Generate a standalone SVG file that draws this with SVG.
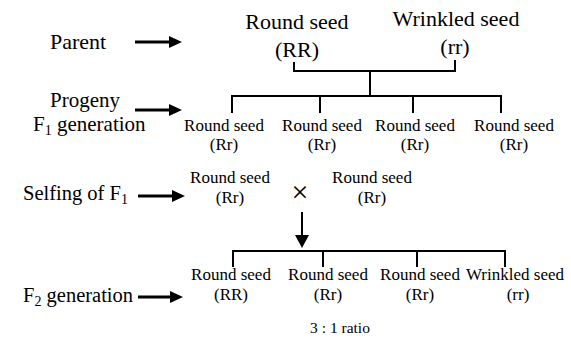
<svg xmlns="http://www.w3.org/2000/svg" width="571" height="338" viewBox="0 0 571 338">
<style>
.big{font-family:"Liberation Serif","Times New Roman",serif;font-size:22px;fill:#000}
.lab{font-family:"Liberation Serif","Times New Roman",serif;font-size:21px;fill:#000}
.sm{font-family:"Liberation Serif","Times New Roman",serif;font-size:17px;fill:#000;text-anchor:middle}
.tiny{font-family:"Liberation Serif","Times New Roman",serif;font-size:15.5px;fill:#000;text-anchor:middle}
.ln{stroke:#000;stroke-width:2;fill:none}
.ar{stroke:#000;stroke-width:3;fill:none}
.sub{font-size:14px}
</style>
<rect width="571" height="338" fill="#fff"/>
<g id="label-parent"><text class="lab" x="50" y="49" style="font-size:22px">Parent</text></g>
<g id="label-progeny"><text class="lab" x="50" y="107">Progeny</text>
<text class="lab" x="33" y="131">F<tspan class="sub" dy="4">1</tspan><tspan dy="-4"> generation</tspan></text></g>
<g id="label-selfing"><text class="lab" x="23" y="200" style="font-size:20.5px">Selfing of F<tspan class="sub" dy="4">1</tspan></text></g>
<g id="label-f2"><text class="lab" x="23" y="302" style="font-size:20.5px">F<tspan class="sub" dy="4">2</tspan><tspan dy="-4"> generation</tspan></text></g>
<g id="parent-round"><text class="big" text-anchor="middle" x="297" y="29">Round seed</text><text class="big" text-anchor="middle" x="297" y="57">(RR)</text></g>
<g id="parent-wrinkled"><text class="big" text-anchor="middle" x="456" y="26">Wrinkled seed</text><text class="big" text-anchor="middle" x="455" y="54">(rr)</text></g>
<g id="f1-1"><text class="sm" x="224" y="131">Round seed</text><text class="sm" x="224" y="150">(Rr)</text></g>
<g id="f1-2"><text class="sm" x="322" y="131">Round seed</text><text class="sm" x="322" y="150">(Rr)</text></g>
<g id="f1-3"><text class="sm" x="415" y="131">Round seed</text><text class="sm" x="415" y="150">(Rr)</text></g>
<g id="f1-4"><text class="sm" x="514" y="131">Round seed</text><text class="sm" x="514" y="150">(Rr)</text></g>
<g id="self-1"><text class="sm" x="230" y="183">Round seed</text><text class="sm" x="230" y="203">(Rr)</text></g>
<g id="cross"><text class="big" text-anchor="middle" x="300" y="202" style="font-size:30px">×</text></g>
<g id="self-2"><text class="sm" x="372" y="183">Round seed</text><text class="sm" x="372" y="203">(Rr)</text></g>
<g id="f2-1"><text class="sm" x="231" y="280">Round seed</text><text class="sm" x="231" y="300">(RR)</text></g>
<g id="f2-2"><text class="sm" x="328" y="280">Round seed</text><text class="sm" x="328" y="300">(Rr)</text></g>
<g id="f2-3"><text class="sm" x="420" y="280">Round seed</text><text class="sm" x="420" y="300">(Rr)</text></g>
<g id="f2-4"><text class="sm" x="515" y="280">Wrinkled seed</text><text class="sm" x="518" y="300">(rr)</text></g>
<g id="ratio"><text class="tiny" x="340" y="333">3 : 1 ratio</text></g>
<g id="connectors">
<path class="ln" d="M294,62 V71 H455 V60 M370,71 V96"/>
<path class="ln" d="M232,113 V96 H501 V113 M320,96 V113 M413,96 V113"/>
<path class="ln" d="M233,267 V251 H505 V267 M323,251 V267 M417,251 V267"/>
<path class="ln" d="M302,212 V236"/>
<path d="M295,235 L309,235 L302,248 Z" fill="#000"/>
<path class="ar" d="M135,42 H170"/><path d="M169,36 L182,42 L169,48 Z"/>
<path class="ar" d="M135,110 H170"/><path d="M169,104 L182,110 L169,116 Z"/>
<path class="ar" d="M138,196 H173"/><path d="M172,190 L185,196 L172,202 Z"/>
<path class="ar" d="M138,297 H171"/><path d="M170,291 L183,297 L170,303 Z"/>
</g>
</svg>
